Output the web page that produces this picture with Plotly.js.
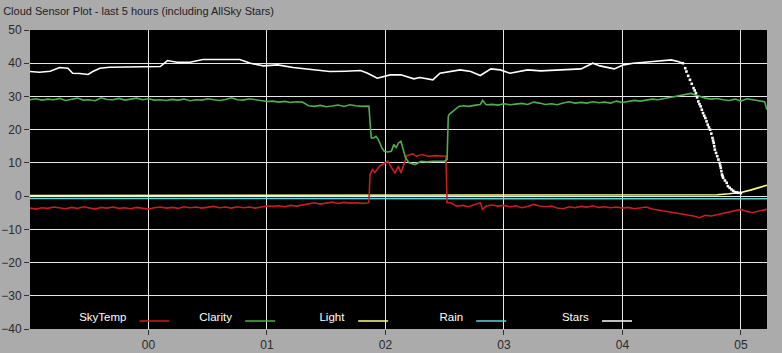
<!DOCTYPE html>
<html>
<head>
<meta charset="utf-8">
<script src="https://cdn.plot.ly/plotly-3.0.1.min.js"></script>
<style>html,body{margin:0;padding:0;background:#ababab;}#chart{width:782px;height:353px;}</style>
</head>
<body>
<div id="chart"></div>
<script>
// ---- data (hours relative to 00:00) ----
const tickVals = [0, 1, 2, 3, 4, 5];
const tickText = ["00", "01", "02", "03", "04", "05"];
const seriesNames = ["SkyTemp", "Clarity", "Light", "Rain", "Stars"];

const xSky = [-1.00,-0.95,-0.90,-0.85,-0.80,-0.75,-0.70,-0.65,-0.60,-0.55,
  -0.50,-0.45,-0.40,-0.35,-0.30,-0.25,-0.20,-0.15,-0.10,-0.05,
  0.00,0.05,0.10,0.15,0.20,0.25,0.30,0.35,0.40,0.45,
  0.50,0.55,0.60,0.65,0.70,0.75,0.80,0.85,0.90,0.95,
  1.00,1.05,1.10,1.15,1.20,1.25,1.30,1.35,1.40,1.45,
  1.50,1.55,1.60,1.65,1.70,1.75,1.80,1.85,1.86,1.87,
  1.89,1.91,1.95,1.99,2.02,2.05,2.08,2.11,2.13,2.15,
  2.18,2.23,2.26,2.31,2.36,2.42,2.47,2.51,2.52,2.55,
  2.60,2.65,2.70,2.75,2.80,2.82,2.85,2.90,2.95,3.00,
  3.05,3.10,3.15,3.20,3.25,3.30,3.35,3.40,3.45,3.50,
  3.55,3.60,3.65,3.70,3.75,3.80,3.85,3.90,3.95,4.00,
  4.05,4.10,4.15,4.20,4.25,4.30,4.35,4.40,4.45,4.50,
  4.55,4.60,4.65,4.70,4.75,4.80,4.85,4.90,4.95,5.00,
  5.05,5.10,5.15,5.20,5.22];
const skyTemp = [-3.6,-3.9,-3.5,-3.7,-3.3,-3.6,-3.8,-3.4,-3.7,-3.2,
  -3.5,-3.9,-3.4,-3.6,-3.3,-3.7,-3.5,-3.8,-3.4,-3.6,
  -3.9,-3.5,-3.3,-3.6,-3.4,-3.7,-3.2,-3.5,-3.3,-3.6,
  -3.4,-3.1,-3.5,-3.3,-3.6,-3.2,-3.5,-3.3,-3.6,-3.4,
  -3.0,-3.1,-2.9,-3.2,-2.8,-3.0,-2.7,-2.3,-2.0,-2.4,
  -2.1,-1.8,-2.2,-1.9,-2.1,-2.0,-2.2,-2.1,-1.8,6.5,
  8.0,7.1,9.0,10.0,10.5,8.6,7.0,9.0,7.0,9.0,
  12.2,12.7,12.0,12.5,12.0,12.2,12.0,12.0,-2.0,-2.0,
  -3.0,-2.8,-3.2,-2.5,-2.0,-4.0,-3.0,-2.7,-3.0,-2.8,
  -3.2,-2.9,-3.5,-3.1,-2.5,-3.0,-3.2,-3.0,-3.6,-3.8,
  -3.2,-3.5,-3.1,-3.3,-2.9,-3.4,-3.2,-3.5,-3.3,-3.6,
  -3.4,-3.8,-3.5,-3.3,-3.9,-4.2,-4.5,-4.8,-5.0,-5.2,
  -5.5,-6.0,-6.5,-5.8,-6.0,-5.6,-5.3,-5.0,-4.6,-4.0,
  -4.6,-5.0,-4.5,-4.1,-4.0];

const xClar = [-1.00,-0.95,-0.90,-0.85,-0.80,-0.75,-0.70,-0.65,-0.60,-0.55,
  -0.50,-0.45,-0.40,-0.35,-0.30,-0.25,-0.20,-0.15,-0.10,-0.05,
  0.00,0.05,0.10,0.15,0.20,0.25,0.30,0.35,0.40,0.45,
  0.50,0.55,0.60,0.65,0.70,0.75,0.80,0.85,0.90,0.95,
  1.00,1.05,1.10,1.15,1.20,1.25,1.30,1.35,1.40,1.45,
  1.50,1.55,1.60,1.65,1.70,1.75,1.80,1.86,1.87,1.88,
  1.90,1.92,1.94,1.97,1.99,2.02,2.05,2.07,2.09,2.11,
  2.13,2.15,2.17,2.20,2.25,2.30,2.35,2.40,2.45,2.50,
  2.52,2.53,2.54,2.58,2.62,2.66,2.70,2.75,2.80,2.82,
  2.85,2.90,2.95,3.00,3.05,3.10,3.15,3.20,3.25,3.30,
  3.35,3.40,3.45,3.50,3.55,3.60,3.65,3.70,3.75,3.80,
  3.85,3.90,3.95,4.00,4.05,4.10,4.15,4.20,4.25,4.30,
  4.35,4.40,4.45,4.50,4.55,4.58,4.62,4.65,4.70,4.75,
  4.80,4.85,4.90,4.95,5.00,5.05,5.10,5.15,5.20,5.22];
const clarity = [29.0,29.3,28.9,29.2,29.0,29.4,28.8,29.1,29.5,28.9,
  29.0,28.7,29.6,29.1,29.0,29.4,28.9,29.2,29.5,29.0,
  29.3,28.9,29.0,28.8,29.1,28.9,29.2,28.7,29.0,28.9,
  29.3,29.0,28.8,29.1,29.6,29.0,28.9,29.3,29.0,28.7,
  28.5,28.6,28.3,28.5,28.2,28.4,28.3,27.2,27.0,27.3,
  26.9,27.1,27.4,27.0,27.5,27.2,27.0,27.1,20.5,17.5,
  17.5,18.0,17.0,14.5,13.5,13.3,13.5,15.5,14.6,16.0,
  16.5,14.0,11.5,10.0,9.5,10.5,10.3,10.5,10.4,10.5,
  11.0,24.0,24.7,26.0,27.0,27.2,27.0,27.3,27.6,28.8,
  27.5,27.6,27.4,27.8,27.5,27.7,27.9,27.6,28.3,28.0,
  27.6,27.8,27.5,28.0,28.4,28.0,28.2,28.0,28.4,28.1,
  28.3,28.0,28.6,28.2,28.5,28.8,28.6,29.0,29.2,29.0,
  29.3,29.6,30.0,30.2,30.6,30.9,30.4,30.0,29.5,29.2,
  29.4,29.0,28.8,29.2,28.6,29.3,29.0,28.7,28.4,26.0];

const xLight = [-1.00, 1.00, 3.00, 4.50, 4.70, 4.80, 4.90, 5.00, 5.08, 5.15, 5.22];
const light  = [0.2, 0.2, 0.2, 0.2, 0.3, 0.4, 0.7, 1.1, 1.8, 2.5, 3.3];

const xRain = [-1.00, 1.86, 1.87, 5.22];
const rain  = [-0.7, -0.7, -0.8, -0.8];

const xStars = [-1.00,-0.92,-0.83,-0.75,-0.68,-0.64,-0.58,-0.51,-0.47,-0.41,
  -0.33,-0.07,0.10,0.16,0.24,0.35,0.46,0.77,0.86,0.97,
  1.09,1.22,1.34,1.53,1.66,1.79,1.85,1.93,2.04,2.13,
  2.24,2.29,2.40,2.46,2.63,2.72,2.80,2.89,2.97,3.05,
  3.20,3.31,3.65,3.75,3.81,3.93,4.01,4.09,4.26,4.41,
  4.47,4.51];
const stars = [37.5,37.3,37.6,38.7,38.5,37.0,36.9,36.6,37.5,38.5,
  38.8,39.0,39.0,40.8,40.3,40.3,41.1,41.1,40.0,39.2,
  39.5,38.7,38.3,37.5,37.6,37.8,37.0,35.5,36.5,36.5,
  35.3,35.7,35.0,37.0,38.0,37.5,36.3,38.3,38.0,37.0,
  38.0,37.7,38.3,40.0,39.2,38.3,39.5,40.0,40.5,41.0,
  40.5,40.0];
const xStarsDrop = [4.51,4.53,4.54,4.555,4.57,4.585,4.60,4.61,4.62,4.63,
  4.64,4.65,4.66,4.67,4.68,4.69,4.70,4.71,4.72,4.73,
  4.74,4.75,4.76,4.765,4.77,4.775,4.78,4.79,4.80,4.81,
  4.82,4.825,4.83,4.835,4.84,4.845,4.85,4.865,4.88,4.89,
  4.905,4.92,4.935,4.95,4.965,4.98,5.00];
const starsDrop = [40.0,38.5,37.5,36.2,35.0,33.8,32.5,31.8,31.0,29.7,
  28.5,27.7,27.0,26.0,25.0,24.2,23.5,22.5,21.5,20.7,
  20.0,18.8,17.5,16.7,16.0,15.0,14.0,13.0,12.0,11.0,
  10.0,9.2,8.5,7.5,6.5,6.0,5.5,4.7,4.0,3.0,
  2.5,2.0,1.6,1.2,1.1,1.0,0.9];

// ---- styles ----
const colors = {SkyTemp: "#c81e1e", Clarity: "#4fae4f", Light: "#ffff8c", Rain: "#5fd6d6", Stars: "#ffffff"};
const font = "Liberation Sans, Arial, sans-serif";

function lineTrace(x, y, name, legendId) {
  return {x: x, y: y, type: "scatter", mode: "lines", name: "", legend: legendId,
    line: {color: colors[name], width: 1.6}, hoverinfo: "skip"};
}

const traces = [
  lineTrace(xRain, rain, "Rain", "legend4"),
  lineTrace(xLight, light, "Light", "legend3"),
  lineTrace(xSky, skyTemp, "SkyTemp", "legend"),
  lineTrace(xClar, clarity, "Clarity", "legend2"),
  lineTrace(xStars, stars, "Stars", "legend5"),
  {x: xStarsDrop, y: starsDrop, type: "scatter", mode: "markers", showlegend: false,
   marker: {color: colors.Stars, size: 2.6, symbol: "square"}, hoverinfo: "skip"}
];

const legendX = [0.064, 0.227, 0.390, 0.553, 0.719];
const legendIds = ["legend", "legend2", "legend3", "legend4", "legend5"];

const layout = {
  width: 782, height: 353,
  paper_bgcolor: "#ababab",
  plot_bgcolor: "#000000",
  margin: {l: 30, r: 15, t: 30, b: 24, pad: 0},
  font: {family: font, size: 12, color: "#2a2a2a"},
  title: {text: "Cloud Sensor Plot - last 5 hours (including AllSky Stars)",
    x: 0.004, xref: "container", xanchor: "left", y: 0.969, yref: "container", yanchor: "middle",
    font: {family: font, size: 11, color: "#222222"}},
  xaxis: {range: [-1.0, 5.22], tickvals: tickVals, ticktext: tickText,
    showgrid: true, gridcolor: "#e6e6e6", gridwidth: 1, zeroline: false,
    ticks: "outside", ticklen: 5, tickcolor: "#333333", showline: false,
    tickfont: {family: font, size: 12, color: "#2a2a2a"}, fixedrange: true},
  yaxis: {range: [-40, 50], dtick: 10, tick0: 0,
    showgrid: true, gridcolor: "#e6e6e6", gridwidth: 1, zeroline: false,
    ticks: "outside", ticklen: 5, tickcolor: "#333333", showline: false,
    tickfont: {family: font, size: 12, color: "#2a2a2a"}, fixedrange: true},
  showlegend: true
};

legendIds.forEach((id, i) => {
  layout[id] = {
    x: legendX[i], y: 0.027, xanchor: "left", yanchor: "middle",
    orientation: "h", bgcolor: "rgba(0,0,0,0)", borderwidth: 0,
    font: {family: font, size: 11.5, color: "#ffffff"},
    title: {text: seriesNames[i], side: "left", font: {family: font, size: 11.5, color: "#ffffff"}},
    itemwidth: 30, tracegroupgap: 0
  };
});

Plotly.newPlot("chart", traces, layout, {displayModeBar: false, staticPlot: true});
</script>
</body>
</html>
